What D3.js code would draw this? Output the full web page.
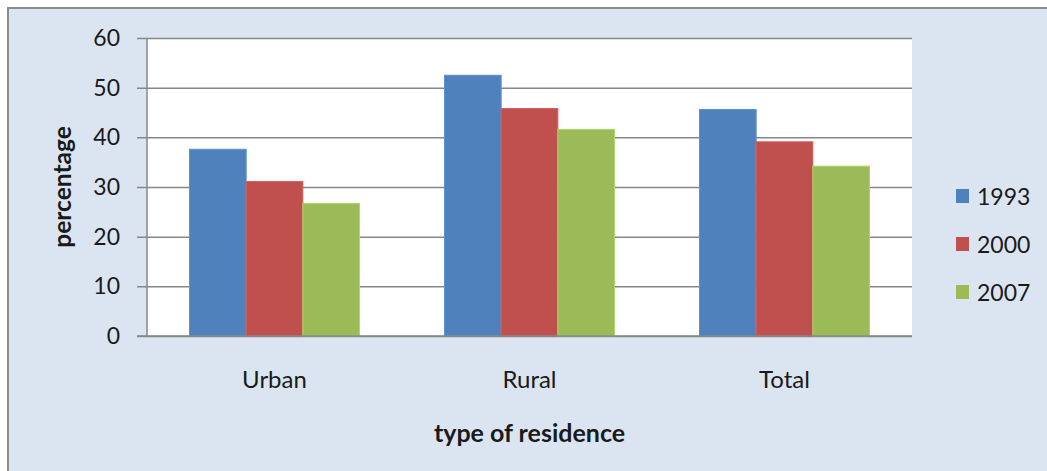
<!DOCTYPE html>
<html>
<head>
<meta charset="utf-8">
<script src="https://cdn.jsdelivr.net/npm/d3@7"></script>
<style>
  html, body { margin: 0; padding: 0; background: #ffffff; }
  svg { display: block; }
  text { font-family: Lato, "Open Sans", sans-serif; fill: #1a1a1a; }
</style>
</head>
<body>
<svg id="chart" width="1047" height="471"></svg>
<script>
// Share of population by type of residence, survey years 1993 / 2000 / 2007
const categories = ["Urban", "Rural", "Total"];
const years = ["1993", "2000", "2007"];
const values1993 = [37.6, 52.5, 45.6];
const values2000 = [31.1, 45.8, 39.1];
const values2007 = [26.7, 41.6, 34.2];
const yTicks = [0, 10, 20, 30, 40, 50, 60];
const colors = ["#4f81bd", "#c0504d", "#9bbb59"];

const series = [values1993, values2000, values2007];

const svg = d3.select("#chart");
const W = 1047, H = 471;
const plot = { left: 147, right: 912, top: 38, bottom: 336 };

// chart frame
svg.append("rect")
  .attr("x", 8).attr("y", 8)
  .attr("width", W + 10).attr("height", H + 10)
  .attr("fill", "#dbe5f1")
  .attr("stroke", "#8c8c8c")
  .attr("stroke-width", 2);

// plot area
svg.append("rect")
  .attr("x", plot.left).attr("y", plot.top)
  .attr("width", plot.right - plot.left).attr("height", plot.bottom - plot.top)
  .attr("fill", "#ffffff");

const x = d3.scaleBand()
  .domain(categories)
  .range([plot.left, plot.right])
  .paddingInner(1 / 3)
  .paddingOuter(1 / 6);

const xInner = d3.scaleBand()
  .domain(years)
  .range([0, x.bandwidth()]);

const y = d3.scaleLinear()
  .domain([0, 60])
  .range([plot.bottom, plot.top]);

// gridlines with tick marks, labels on the left
const yAxis = d3.axisLeft(y)
  .tickValues(yTicks)
  .tickSize(-(plot.right - plot.left))
  .tickPadding(27)
  .tickFormat(d3.format("d"));

const gy = svg.append("g")
  .attr("transform", `translate(${plot.left},0)`)
  .call(yAxis);
gy.select(".domain").remove();
gy.selectAll(".tick line")
  .attr("x1", -10)
  .attr("stroke", "#878787")
  .attr("stroke-width", 1.5);
gy.selectAll(".tick text")
  .style("font-size", "23px")
  .attr("fill", "#1a1a1a");

// vertical axis line
svg.append("line")
  .attr("x1", plot.left).attr("x2", plot.left)
  .attr("y1", plot.top).attr("y2", plot.bottom)
  .attr("stroke", "#878787")
  .attr("stroke-width", 1.5);

// bars
const groups = svg.append("g").selectAll("g")
  .data(categories)
  .join("g")
  .attr("transform", d => `translate(${x(d)},0)`);

groups.selectAll("rect")
  .data((c, ci) => years.map((yr, si) => ({ yr, si, v: series[si][ci] })))
  .join("rect")
  .attr("x", d => xInner(d.yr))
  .attr("y", d => y(d.v))
  .attr("width", xInner.bandwidth())
  .attr("height", d => y(0) - y(d.v))
  .attr("fill", d => colors[d.si])
  .attr("stroke", d => d3.color(colors[d.si]).brighter(0.35))
  .attr("stroke-width", 1);

// redraw baseline over bars
svg.append("line")
  .attr("x1", plot.left - 10).attr("x2", plot.right)
  .attr("y1", y(0)).attr("y2", y(0))
  .attr("stroke", "#878787")
  .attr("stroke-width", 1.5);

// category labels
svg.append("g").selectAll("text")
  .data(categories)
  .join("text")
  .attr("x", d => x(d) + x.bandwidth() / 2)
  .attr("y", 378)
  .attr("text-anchor", "middle")
  .attr("dominant-baseline", "central")
  .style("font-size", "24px")
  .text(d => d);

// axis titles
svg.append("text")
  .attr("x", (plot.left + plot.right) / 2)
  .attr("y", 432)
  .attr("text-anchor", "middle")
  .attr("dominant-baseline", "central")
  .style("font-size", "25px")
  .style("font-weight", "bold")
  .text("type of residence");

svg.append("text")
  .attr("transform", `translate(61,${(plot.top + plot.bottom) / 2}) rotate(-90)`)
  .attr("text-anchor", "middle")
  .attr("dominant-baseline", "central")
  .style("font-size", "24.5px")
  .style("font-weight", "bold")
  .text("percentage");

// legend
const legend = svg.append("g").selectAll("g")
  .data(years)
  .join("g")
  .attr("transform", (d, i) => `translate(956,${196 + i * 48})`);

legend.append("rect")
  .attr("x", 0).attr("y", -7)
  .attr("width", 13).attr("height", 14)
  .attr("fill", (d, i) => colors[i]);

legend.append("text")
  .attr("x", 21)
  .attr("y", 0)
  .attr("dominant-baseline", "central")
  .style("font-size", "23px")
  .text(d => d);
</script>
</body>
</html>
